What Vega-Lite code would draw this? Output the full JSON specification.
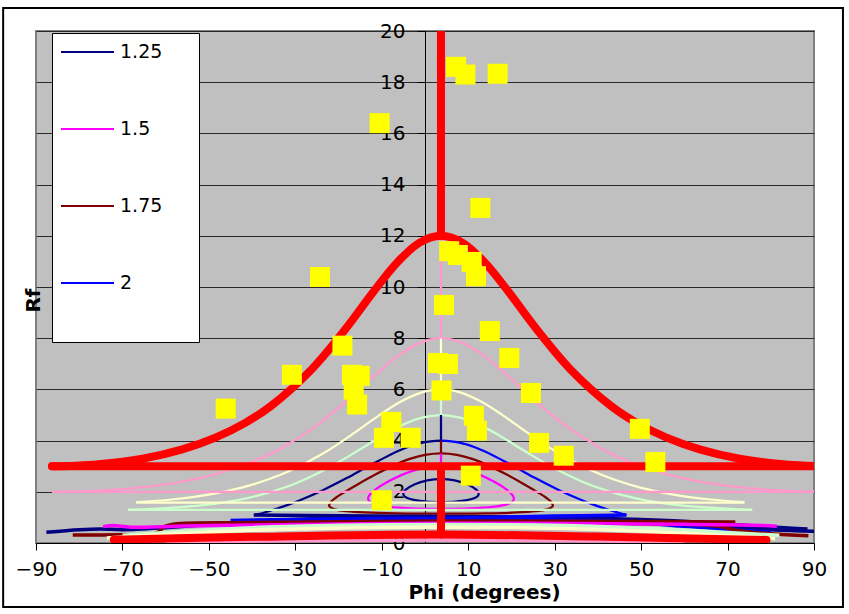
{
  "$schema": "https://vega.github.io/schema/vega-lite/v6.json",
  "width": 778,
  "height": 512,
  "autosize": {"type": "none"},
  "padding": {"left": 36, "top": 31, "right": 35, "bottom": 71},
  "background": "#FFFFFF",
  "config": {
    "font": "DejaVu Sans",
    "view": {"fill": "#C0C0C0", "stroke": "#808080", "strokeWidth": 2},
    "axis": {"labelFont": "DejaVu Sans", "titleFont": "DejaVu Sans", "labelColor": "#000000", "titleColor": "#000000", "domainColor": "#000000", "tickColor": "#000000"}
  },
  "resolve": {"axis": {"y": "independent"}},
  "datasets": {
    "onion": [
      {"s":"1.25","g":"L125","o":0,"phi":3.7,"rf":1.6},
      {"s":"1.25","g":"L125","o":1,"phi":0.36,"rf":1.619},
      {"s":"1.25","g":"L125","o":2,"phi":-2.35,"rf":1.672},
      {"s":"1.25","g":"L125","o":3,"phi":-4.1,"rf":1.754},
      {"s":"1.25","g":"L125","o":4,"phi":-4.92,"rf":1.854},
      {"s":"1.25","g":"L125","o":5,"phi":-4.97,"rf":1.967},
      {"s":"1.25","g":"L125","o":6,"phi":-4.46,"rf":2.082},
      {"s":"1.25","g":"L125","o":7,"phi":-2.35,"rf":2.296},
      {"s":"1.25","g":"L125","o":8,"phi":0.53,"rf":2.446},
      {"s":"1.25","g":"L125","o":9,"phi":3.7,"rf":2.5},
      {"s":"1.25","g":"L125","o":10,"phi":6.87,"rf":2.446},
      {"s":"1.25","g":"L125","o":11,"phi":9.75,"rf":2.296},
      {"s":"1.25","g":"L125","o":12,"phi":11.86,"rf":2.082},
      {"s":"1.25","g":"L125","o":13,"phi":12.37,"rf":1.967},
      {"s":"1.25","g":"L125","o":14,"phi":12.32,"rf":1.854},
      {"s":"1.25","g":"L125","o":15,"phi":11.5,"rf":1.754},
      {"s":"1.25","g":"L125","o":16,"phi":9.75,"rf":1.672},
      {"s":"1.25","g":"L125","o":17,"phi":7.04,"rf":1.619},
      {"s":"1.25","g":"L125","o":18,"phi":3.7,"rf":1.6},

      {"s":"1.5","g":"L150","o":0,"phi":3.7,"rf":1.333},
      {"s":"1.5","g":"L150","o":1,"phi":-3.09,"rf":1.354},
      {"s":"1.5","g":"L150","o":2,"phi":-8.2,"rf":1.414},
      {"s":"1.5","g":"L150","o":3,"phi":-11.28,"rf":1.501},
      {"s":"1.5","g":"L150","o":4,"phi":-12.77,"rf":1.607},
      {"s":"1.5","g":"L150","o":5,"phi":-13.17,"rf":1.728},
      {"s":"1.5","g":"L150","o":6,"phi":-12.89,"rf":1.857},
      {"s":"1.5","g":"L150","o":7,"phi":-11.1,"rf":2.13},
      {"s":"1.5","g":"L150","o":8,"phi":-8.52,"rf":2.4},
      {"s":"1.5","g":"L150","o":9,"phi":-5.6,"rf":2.642},
      {"s":"1.5","g":"L150","o":10,"phi":-2.53,"rf":2.834},
      {"s":"1.5","g":"L150","o":11,"phi":0.58,"rf":2.957},
      {"s":"1.5","g":"L150","o":12,"phi":3.7,"rf":3.0},
      {"s":"1.5","g":"L150","o":13,"phi":6.82,"rf":2.957},
      {"s":"1.5","g":"L150","o":14,"phi":9.93,"rf":2.834},
      {"s":"1.5","g":"L150","o":15,"phi":13.0,"rf":2.642},
      {"s":"1.5","g":"L150","o":16,"phi":15.92,"rf":2.4},
      {"s":"1.5","g":"L150","o":17,"phi":18.5,"rf":2.13},
      {"s":"1.5","g":"L150","o":18,"phi":20.29,"rf":1.857},
      {"s":"1.5","g":"L150","o":19,"phi":20.57,"rf":1.728},
      {"s":"1.5","g":"L150","o":20,"phi":20.17,"rf":1.607},
      {"s":"1.5","g":"L150","o":21,"phi":18.68,"rf":1.501},
      {"s":"1.5","g":"L150","o":22,"phi":15.6,"rf":1.414},
      {"s":"1.5","g":"L150","o":23,"phi":10.49,"rf":1.354},
      {"s":"1.5","g":"L150","o":24,"phi":3.7,"rf":1.333},

      {"s":"1.75","g":"L175","o":0,"phi":3.7,"rf":1.143},
      {"s":"1.75","g":"L175","o":1,"phi":-6.6,"rf":1.157},
      {"s":"1.75","g":"L175","o":2,"phi":-13.9,"rf":1.193},
      {"s":"1.75","g":"L175","o":3,"phi":-18.2,"rf":1.244},
      {"s":"1.75","g":"L175","o":4,"phi":-20.55,"rf":1.305},
      {"s":"1.75","g":"L175","o":5,"phi":-22.16,"rf":1.443},
      {"s":"1.75","g":"L175","o":6,"phi":-21.82,"rf":1.599},
      {"s":"1.75","g":"L175","o":7,"phi":-20.63,"rf":1.768},
      {"s":"1.75","g":"L175","o":8,"phi":-19.03,"rf":1.946},
      {"s":"1.75","g":"L175","o":9,"phi":-15.3,"rf":2.317},
      {"s":"1.75","g":"L175","o":10,"phi":-11.38,"rf":2.683},
      {"s":"1.75","g":"L175","o":11,"phi":-7.5,"rf":3.012},
      {"s":"1.75","g":"L175","o":12,"phi":-3.69,"rf":3.274},
      {"s":"1.75","g":"L175","o":13,"phi":0.02,"rf":3.442},
      {"s":"1.75","g":"L175","o":14,"phi":3.7,"rf":3.5},
      {"s":"1.75","g":"L175","o":15,"phi":7.38,"rf":3.442},
      {"s":"1.75","g":"L175","o":16,"phi":11.09,"rf":3.274},
      {"s":"1.75","g":"L175","o":17,"phi":14.9,"rf":3.012},
      {"s":"1.75","g":"L175","o":18,"phi":18.78,"rf":2.683},
      {"s":"1.75","g":"L175","o":19,"phi":22.7,"rf":2.317},
      {"s":"1.75","g":"L175","o":20,"phi":26.43,"rf":1.946},
      {"s":"1.75","g":"L175","o":21,"phi":28.03,"rf":1.768},
      {"s":"1.75","g":"L175","o":22,"phi":29.22,"rf":1.599},
      {"s":"1.75","g":"L175","o":23,"phi":29.56,"rf":1.443},
      {"s":"1.75","g":"L175","o":24,"phi":27.95,"rf":1.305},
      {"s":"1.75","g":"L175","o":25,"phi":25.6,"rf":1.244},
      {"s":"1.75","g":"L175","o":26,"phi":21.3,"rf":1.193},
      {"s":"1.75","g":"L175","o":27,"phi":14.0,"rf":1.157},
      {"s":"1.75","g":"L175","o":28,"phi":3.7,"rf":1.143},

      {"s":"1.25","g":"C200L","o":0,"phi":-39.6,"rf":1.09},
      {"s":"1.25","g":"C200L","o":1,"phi":-38.18,"rf":1.14},
      {"s":"1.25","g":"C200L","o":2,"phi":-35.09,"rf":1.297},
      {"s":"1.25","g":"C200L","o":3,"phi":-32.04,"rf":1.471},
      {"s":"1.25","g":"C200L","o":4,"phi":-29.07,"rf":1.661},
      {"s":"1.25","g":"C200L","o":5,"phi":-23.39,"rf":2.082},
      {"s":"1.25","g":"C200L","o":6,"phi":-18.12,"rf":2.535},
      {"s":"1.25","g":"C200L","o":7,"phi":-13.24,"rf":2.986},
      {"s":"1.25","g":"C200L","o":8,"phi":-8.7,"rf":3.393},
      {"s":"1.25","g":"C200L","o":9,"phi":-4.42,"rf":3.718},
      {"s":"1.25","g":"C200L","o":10,"phi":-0.31,"rf":3.928},
      {"s":"1.25","g":"C200L","o":11,"phi":3.7,"rf":4.0},

      {"s":"2","g":"C200R","o":0,"phi":3.7,"rf":4.0},
      {"s":"2","g":"C200R","o":1,"phi":7.71,"rf":3.928},
      {"s":"2","g":"C200R","o":2,"phi":11.82,"rf":3.718},
      {"s":"2","g":"C200R","o":3,"phi":16.1,"rf":3.393},
      {"s":"2","g":"C200R","o":4,"phi":20.64,"rf":2.986},
      {"s":"2","g":"C200R","o":5,"phi":25.52,"rf":2.535},
      {"s":"2","g":"C200R","o":6,"phi":30.79,"rf":2.082},
      {"s":"2","g":"C200R","o":7,"phi":36.47,"rf":1.661},
      {"s":"2","g":"C200R","o":8,"phi":39.44,"rf":1.471},
      {"s":"2","g":"C200R","o":9,"phi":42.49,"rf":1.297},
      {"s":"2","g":"C200R","o":10,"phi":45.58,"rf":1.14},
      {"s":"2","g":"C200R","o":11,"phi":46.6,"rf":1.09},

      {"s":"2.5","g":"C250","o":0,"phi":-68.7,"rf":1.29},
      {"s":"2.5","g":"C250","o":1,"phi":-65.48,"rf":1.311},
      {"s":"2.5","g":"C250","o":2,"phi":-52.36,"rf":1.46},
      {"s":"2.5","g":"C250","o":3,"phi":-43.97,"rf":1.658},
      {"s":"2.5","g":"C250","o":4,"phi":-37.84,"rf":1.889},
      {"s":"2.5","g":"C250","o":5,"phi":-32.86,"rf":2.147},
      {"s":"2.5","g":"C250","o":6,"phi":-28.6,"rf":2.425},
      {"s":"2.5","g":"C250","o":7,"phi":-21.44,"rf":3.02},
      {"s":"2.5","g":"C250","o":8,"phi":-15.39,"rf":3.622},
      {"s":"2.5","g":"C250","o":9,"phi":-10.07,"rf":4.173},
      {"s":"2.5","g":"C250","o":10,"phi":-5.24,"rf":4.615},
      {"s":"2.5","g":"C250","o":11,"phi":-0.7,"rf":4.901},
      {"s":"2.5","g":"C250","o":12,"phi":3.7,"rf":5.0},
      {"s":"2.5","g":"C250","o":13,"phi":8.1,"rf":4.901},
      {"s":"2.5","g":"C250","o":14,"phi":12.64,"rf":4.615},
      {"s":"2.5","g":"C250","o":15,"phi":17.47,"rf":4.173},
      {"s":"2.5","g":"C250","o":16,"phi":22.79,"rf":3.622},
      {"s":"2.5","g":"C250","o":17,"phi":28.84,"rf":3.02},
      {"s":"2.5","g":"C250","o":18,"phi":36.0,"rf":2.425},
      {"s":"2.5","g":"C250","o":19,"phi":40.26,"rf":2.147},
      {"s":"2.5","g":"C250","o":20,"phi":45.24,"rf":1.889},
      {"s":"2.5","g":"C250","o":21,"phi":51.37,"rf":1.658},
      {"s":"2.5","g":"C250","o":22,"phi":59.76,"rf":1.46},
      {"s":"2.5","g":"C250","o":23,"phi":72.88,"rf":1.311},
      {"s":"2.5","g":"C250","o":24,"phi":75.7,"rf":1.29},
      {"s":"2.5","g":"H250","o":0,"phi":-68.7,"rf":1.29},
      {"s":"2.5","g":"H250","o":1,"phi":75.7,"rf":1.29},

      {"s":"3","g":"C300","o":0,"phi":-66.8,"rf":1.6},
      {"s":"3","g":"C300","o":1,"phi":-58.66,"rf":1.699},
      {"s":"3","g":"C300","o":2,"phi":-49.4,"rf":1.912},
      {"s":"3","g":"C300","o":3,"phi":-42.2,"rf":2.175},
      {"s":"3","g":"C300","o":4,"phi":-36.34,"rf":2.478},
      {"s":"3","g":"C300","o":5,"phi":-31.38,"rf":2.811},
      {"s":"3","g":"C300","o":6,"phi":-23.2,"rf":3.537},
      {"s":"3","g":"C300","o":7,"phi":-16.53,"rf":4.28},
      {"s":"3","g":"C300","o":8,"phi":-10.8,"rf":4.965},
      {"s":"3","g":"C300","o":9,"phi":-5.67,"rf":5.517},
      {"s":"3","g":"C300","o":10,"phi":-0.9,"rf":5.876},
      {"s":"3","g":"C300","o":11,"phi":3.7,"rf":6.0},
      {"s":"3","g":"C300","o":12,"phi":8.3,"rf":5.876},
      {"s":"3","g":"C300","o":13,"phi":13.07,"rf":5.517},
      {"s":"3","g":"C300","o":14,"phi":18.2,"rf":4.965},
      {"s":"3","g":"C300","o":15,"phi":23.93,"rf":4.28},
      {"s":"3","g":"C300","o":16,"phi":30.6,"rf":3.537},
      {"s":"3","g":"C300","o":17,"phi":38.78,"rf":2.811},
      {"s":"3","g":"C300","o":18,"phi":43.74,"rf":2.478},
      {"s":"3","g":"C300","o":19,"phi":49.6,"rf":2.175},
      {"s":"3","g":"C300","o":20,"phi":56.8,"rf":1.912},
      {"s":"3","g":"C300","o":21,"phi":66.06,"rf":1.699},
      {"s":"3","g":"C300","o":22,"phi":73.9,"rf":1.6},
      {"s":"3","g":"H300","o":0,"phi":-66.8,"rf":1.58},
      {"s":"3","g":"H300","o":1,"phi":73.9,"rf":1.58},

      {"s":"4","g":"C400","o":0,"phi":-86.3,"rf":2.0},
      {"s":"4","g":"C400","o":1,"phi":-80.08,"rf":2.014},
      {"s":"4","g":"C400","o":2,"phi":-74.06,"rf":2.056},
      {"s":"4","g":"C400","o":3,"phi":-63.06,"rf":2.219},
      {"s":"4","g":"C400","o":4,"phi":-53.77,"rf":2.472},
      {"s":"4","g":"C400","o":5,"phi":-46.05,"rf":2.801},
      {"s":"4","g":"C400","o":6,"phi":-39.56,"rf":3.191},
      {"s":"4","g":"C400","o":7,"phi":-34.02,"rf":3.631},
      {"s":"4","g":"C400","o":8,"phi":-24.93,"rf":4.607},
      {"s":"4","g":"C400","o":9,"phi":-17.65,"rf":5.623},
      {"s":"4","g":"C400","o":10,"phi":-11.51,"rf":6.566},
      {"s":"4","g":"C400","o":11,"phi":-6.09,"rf":7.33},
      {"s":"4","g":"C400","o":12,"phi":-1.09,"rf":7.827},
      {"s":"4","g":"C400","o":13,"phi":3.7,"rf":8.0},
      {"s":"4","g":"C400","o":14,"phi":8.49,"rf":7.827},
      {"s":"4","g":"C400","o":15,"phi":13.49,"rf":7.33},
      {"s":"4","g":"C400","o":16,"phi":18.91,"rf":6.566},
      {"s":"4","g":"C400","o":17,"phi":25.05,"rf":5.623},
      {"s":"4","g":"C400","o":18,"phi":32.33,"rf":4.607},
      {"s":"4","g":"C400","o":19,"phi":41.42,"rf":3.631},
      {"s":"4","g":"C400","o":20,"phi":46.96,"rf":3.191},
      {"s":"4","g":"C400","o":21,"phi":53.45,"rf":2.801},
      {"s":"4","g":"C400","o":22,"phi":61.17,"rf":2.472},
      {"s":"4","g":"C400","o":23,"phi":70.46,"rf":2.219},
      {"s":"4","g":"C400","o":24,"phi":81.46,"rf":2.056},
      {"s":"4","g":"C400","o":25,"phi":87.48,"rf":2.014},
      {"s":"4","g":"C400","o":26,"phi":93.7,"rf":2.0},
      {"s":"4","g":"H400","o":0,"phi":-86.3,"rf":2.0},
      {"s":"4","g":"H400","o":1,"phi":93.7,"rf":2.0},

      {"s":"1.5","g":"V150","o":0,"phi":3.7,"rf":3.0},
      {"s":"1.5","g":"V150","o":1,"phi":3.7,"rf":3.5},
      {"s":"1.75","g":"V175","o":0,"phi":3.7,"rf":3.5},
      {"s":"1.75","g":"V175","o":1,"phi":3.7,"rf":4.0},
      {"s":"1.25","g":"V200","o":0,"phi":3.7,"rf":4.0},
      {"s":"1.25","g":"V200","o":1,"phi":3.7,"rf":5.0},
      {"s":"2.5","g":"V250","o":0,"phi":3.7,"rf":5.0},
      {"s":"2.5","g":"V250","o":1,"phi":3.7,"rf":6.0},
      {"s":"3","g":"V300","o":0,"phi":3.7,"rf":6.0},
      {"s":"3","g":"V300","o":1,"phi":3.7,"rf":8.0},
      {"s":"4","g":"V400","o":0,"phi":3.7,"rf":8.0},
      {"s":"4","g":"V400","o":1,"phi":3.7,"rf":12.0}
    ],
    "base": [
      {"s":"1.25","g":"B1","o":0,"phi":-39.6,"rf":1.09},
      {"s":"1.25","g":"B1","o":1,"phi":-20,"rf":1.06},
      {"s":"1.25","g":"B1","o":2,"phi":3.7,"rf":1.04},
      {"s":"1.25","g":"B1","o":3,"phi":30,"rf":1.0},
      {"s":"1.25","g":"B1","o":4,"phi":50,"rf":0.92},
      {"s":"1.25","g":"B1","o":5,"phi":65,"rf":0.8},
      {"s":"1.25","g":"B1","o":6,"phi":75,"rf":0.68},
      {"s":"1.25","g":"B1","o":7,"phi":85,"rf":0.58},
      {"s":"1.25","g":"B1","o":8,"phi":88.5,"rf":0.55},
      {"s":"1.25","g":"B2","o":0,"phi":-87.6,"rf":0.42},
      {"s":"1.25","g":"B2","o":1,"phi":-80,"rf":0.52},
      {"s":"1.25","g":"B2","o":2,"phi":-75,"rf":0.55},
      {"s":"1.25","g":"B2","o":3,"phi":-70,"rf":0.52},
      {"s":"1.25","g":"B2","o":4,"phi":-60,"rf":0.6},
      {"s":"1.25","g":"B2","o":5,"phi":-45,"rf":0.78},
      {"s":"1.25","g":"B2","o":6,"phi":-30,"rf":0.92},
      {"s":"1.25","g":"B2","o":7,"phi":-10,"rf":1.0},
      {"s":"1.25","g":"B2","o":8,"phi":3.7,"rf":1.0},
      {"s":"1.25","g":"B2","o":9,"phi":40,"rf":0.92},
      {"s":"1.25","g":"B2","o":10,"phi":60,"rf":0.72},
      {"s":"1.25","g":"B2","o":11,"phi":80,"rf":0.52},
      {"s":"1.25","g":"B2","o":12,"phi":91,"rf":0.45},
      {"s":"2","g":"B3","o":0,"phi":46.6,"rf":1.09},
      {"s":"2","g":"B3","o":1,"phi":30,"rf":1.05},
      {"s":"2","g":"B3","o":2,"phi":3.7,"rf":0.97},
      {"s":"2","g":"B3","o":3,"phi":-20,"rf":0.94},
      {"s":"2","g":"B3","o":4,"phi":-45,"rf":0.88},
      {"s":"2","g":"B4","o":0,"phi":3.7,"rf":0.93},
      {"s":"2","g":"B4","o":1,"phi":30,"rf":0.9},
      {"s":"2","g":"B4","o":2,"phi":45,"rf":0.85},
      {"s":"2","g":"B4","o":3,"phi":60,"rf":0.65},
      {"s":"2","g":"B4","o":4,"phi":72,"rf":0.5},
      {"s":"2","g":"B4","o":5,"phi":80,"rf":0.42},
      {"s":"1.75","g":"B5","o":0,"phi":-81.5,"rf":0.31},
      {"s":"1.75","g":"B5","o":1,"phi":-70,"rf":0.32},
      {"s":"1.75","g":"B5","o":2,"phi":-63,"rf":0.34},
      {"s":"1.75","g":"B5","o":3,"phi":-61.5,"rf":0.45},
      {"s":"1.75","g":"B5","o":4,"phi":-60.5,"rf":0.62},
      {"s":"1.75","g":"B5","o":5,"phi":-58,"rf":0.74},
      {"s":"1.75","g":"B5","o":6,"phi":-40,"rf":0.8},
      {"s":"1.75","g":"B5","o":7,"phi":3.7,"rf":0.86},
      {"s":"1.75","g":"B5","o":8,"phi":40,"rf":0.85},
      {"s":"1.75","g":"B5","o":9,"phi":71.8,"rf":0.82},
      {"s":"1.75","g":"B6","o":0,"phi":3.7,"rf":0.8},
      {"s":"1.75","g":"B6","o":1,"phi":40,"rf":0.77},
      {"s":"1.75","g":"B6","o":2,"phi":62,"rf":0.72},
      {"s":"1.75","g":"B6","o":3,"phi":68,"rf":0.65},
      {"s":"1.75","g":"B6","o":4,"phi":72,"rf":0.5},
      {"s":"1.75","g":"B6","o":5,"phi":80,"rf":0.36},
      {"s":"1.75","g":"B6","o":6,"phi":88.7,"rf":0.28},
      {"s":"1.5","g":"B7","o":0,"phi":-74.5,"rf":0.64},
      {"s":"1.5","g":"B7","o":1,"phi":-72,"rf":0.68},
      {"s":"1.5","g":"B7","o":2,"phi":-68,"rf":0.62},
      {"s":"1.5","g":"B7","o":3,"phi":-50,"rf":0.68},
      {"s":"1.5","g":"B7","o":4,"phi":3.7,"rf":0.77},
      {"s":"1.5","g":"B7","o":5,"phi":60,"rf":0.73},
      {"s":"1.5","g":"B7","o":6,"phi":78,"rf":0.68},
      {"s":"1.5","g":"B7","o":7,"phi":81.4,"rf":0.65},
      {"s":"2.5","g":"B8","o":0,"phi":-70,"rf":0.3},
      {"s":"2.5","g":"B8","o":1,"phi":-40,"rf":0.6},
      {"s":"2.5","g":"B8","o":2,"phi":3.7,"rf":0.72},
      {"s":"2.5","g":"B8","o":3,"phi":45,"rf":0.62},
      {"s":"2.5","g":"B8","o":4,"phi":82,"rf":0.3},
      {"s":"3","g":"B9","o":0,"phi":-73.6,"rf":0.2},
      {"s":"3","g":"B9","o":1,"phi":-40,"rf":0.5},
      {"s":"3","g":"B9","o":2,"phi":3.7,"rf":0.62},
      {"s":"3","g":"B9","o":3,"phi":45,"rf":0.5},
      {"s":"3","g":"B9","o":4,"phi":81,"rf":0.18},
      {"s":"4","g":"B10","o":0,"phi":-60,"rf":0.05},
      {"s":"4","g":"B10","o":1,"phi":3.7,"rf":0.12},
      {"s":"4","g":"B10","o":2,"phi":60,"rf":0.05}
    ],
    "outer": [
      {"s":"6","g":"R6","o":0,"phi":-86.3,"rf":3.0},
      {"s":"6","g":"R6","o":1,"phi":-80.85,"rf":3.019},
      {"s":"6","g":"R6","o":2,"phi":-75.5,"rf":3.074},
      {"s":"6","g":"R6","o":3,"phi":-65.37,"rf":3.293},
      {"s":"6","g":"R6","o":4,"phi":-56.35,"rf":3.645},
      {"s":"6","g":"R6","o":5,"phi":-48.49,"rf":4.114},
      {"s":"6","g":"R6","o":6,"phi":-41.7,"rf":4.683},
      {"s":"6","g":"R6","o":7,"phi":-35.8,"rf":5.333},
      {"s":"6","g":"R6","o":8,"phi":-26.14,"rf":6.8},
      {"s":"6","g":"R6","o":9,"phi":-18.44,"rf":8.348},
      {"s":"6","g":"R6","o":10,"phi":-12.01,"rf":9.794},
      {"s":"6","g":"R6","o":11,"phi":-6.38,"rf":10.968},
      {"s":"6","g":"R6","o":12,"phi":-1.23,"rf":11.734},
      {"s":"6","g":"R6","o":13,"phi":3.7,"rf":12.0},
      {"s":"6","g":"R6","o":14,"phi":8.63,"rf":11.734},
      {"s":"6","g":"R6","o":15,"phi":13.78,"rf":10.968},
      {"s":"6","g":"R6","o":16,"phi":19.41,"rf":9.794},
      {"s":"6","g":"R6","o":17,"phi":25.84,"rf":8.348},
      {"s":"6","g":"R6","o":18,"phi":33.54,"rf":6.8},
      {"s":"6","g":"R6","o":19,"phi":43.2,"rf":5.333},
      {"s":"6","g":"R6","o":20,"phi":49.1,"rf":4.683},
      {"s":"6","g":"R6","o":21,"phi":55.89,"rf":4.114},
      {"s":"6","g":"R6","o":22,"phi":63.75,"rf":3.645},
      {"s":"6","g":"R6","o":23,"phi":72.77,"rf":3.293},
      {"s":"6","g":"R6","o":24,"phi":82.9,"rf":3.074},
      {"s":"6","g":"R6","o":25,"phi":88.25,"rf":3.019},
      {"s":"6","g":"R6","o":26,"phi":93.7,"rf":3.0},
      {"s":"6","g":"R6H","o":0,"phi":-86.3,"rf":3.0},
      {"s":"6","g":"R6H","o":1,"phi":93.7,"rf":3.0},
      {"s":"6","g":"R6V1","o":0,"phi":3.7,"rf":12.0},
      {"s":"6","g":"R6V1","o":1,"phi":3.7,"rf":21.0},
      {"s":"6","g":"R6V2","o":0,"phi":3.7,"rf":0.33},
      {"s":"6","g":"R6V2","o":1,"phi":3.7,"rf":3.0},
      {"s":"6","g":"R6B","o":0,"phi":-72,"rf":0.13},
      {"s":"6","g":"R6B","o":1,"phi":-40,"rf":0.24},
      {"s":"6","g":"R6B","o":2,"phi":3.7,"rf":0.33},
      {"s":"6","g":"R6B","o":3,"phi":40,"rf":0.25},
      {"s":"6","g":"R6B","o":4,"phi":79,"rf":0.12}
    ],
    "pts": [
      {"phi":7.2,"rf":18.6},{"phi":9.35,"rf":18.3},{"phi":16.8,"rf":18.33},{"phi":12.8,"rf":13.09},
      {"phi":-10.5,"rf":16.4},{"phi":-24.3,"rf":10.39},{"phi":5.6,"rf":11.4},{"phi":7.6,"rf":11.25},
      {"phi":10.8,"rf":10.98},{"phi":11.8,"rf":10.42},{"phi":4.4,"rf":9.3},{"phi":15.0,"rf":8.28},
      {"phi":19.5,"rf":7.23},{"phi":3.0,"rf":7.03},{"phi":5.3,"rf":6.99},{"phi":3.8,"rf":5.96},
      {"phi":24.5,"rf":5.86},{"phi":11.3,"rf":4.97},{"phi":12.0,"rf":4.39},{"phi":26.4,"rf":3.91},
      {"phi":32.1,"rf":3.41},{"phi":49.7,"rf":4.46},{"phi":53.3,"rf":3.16},{"phi":10.6,"rf":2.63},
      {"phi":-10.0,"rf":1.67},{"phi":-9.5,"rf":4.11},{"phi":-7.8,"rf":4.73},{"phi":-3.3,"rf":4.11},
      {"phi":-46.1,"rf":5.25},{"phi":-30.8,"rf":6.57},{"phi":-19.1,"rf":7.71},{"phi":-16.9,"rf":6.57},
      {"phi":-15.1,"rf":6.53},{"phi":-16.5,"rf":5.99},{"phi":-15.7,"rf":5.41}
    ]
  },
  "layer": [
    {
      "data": {"name": "onion"},
      "mark": {"type": "line", "strokeWidth": 2.25, "interpolate": "catmull-rom", "clip": true},
      "encoding": {
        "x": {"field": "phi", "type": "quantitative", "scale": {"domain": [-90, 90], "nice": false, "zero": false},
              "axis": {"values": [-90,-70,-50,-30,-10,10,30,50,70,90], "grid": false, "tickSize": 7, "labelFontSize": 20, "labelPadding": 9, "labelFlush": false, "labelOverlap": false, "labelBound": false,
                       "title": "Phi (degrees)", "titleFontSize": 20, "titleFontWeight": "bold", "titleX": 448, "titleY": 39, "titleAlign": "center", "titleBaseline": "top"}},
        "y": {"field": "rf", "type": "quantitative", "scale": {"domain": [0, 20], "nice": false, "zero": false},
              "axis": {"orient": "left", "values": [0,2,4,6,8,10,12,14,16,18,20], "offset": -389, "grid": false, "tickSize": 8, "labelFontSize": 20, "labelPadding": 12,
                       "title": "Rf", "titleFontSize": 20, "titleFontWeight": "bold", "titleAngle": -90, "titleX": -382, "titleY": 269, "titleAlign": "center", "titleBaseline": "bottom"}},
        "color": {"field": "s", "type": "nominal",
                  "scale": {"domain": ["1.25","1.5","1.75","2","2.5","3","4","6"], "range": ["#000080","#FF00FF","#800000","#0000FF","#CCFFCC","#FFFFCC","#FF99CC","#FF0000"]},
                  "legend": {"values": ["1.25","1.5","1.75","2"], "title": "_________", "titleColor": "#FFFFFF", "titleOrient": "bottom", "titleFontSize": 29, "titlePadding": 12,
                             "orient": "none", "legendX": 16, "legendY": 2, "direction": "vertical",
                             "symbolType": "M-1,0H4.3", "symbolSize": 400, "symbolStrokeWidth": 2, "labelFontSize": 19, "labelOffset": 38, "rowPadding": 56, "padding": 8,
                             "fillColor": "#FFFFFF", "strokeColor": "#000000", "labelColor": "#000000", "labelFont": "DejaVu Sans"}},
        "detail": {"field": "g"},
        "order": {"field": "o", "type": "quantitative"}
      }
    },
    {
      "data": {"name": "base"},
      "mark": {"type": "line", "strokeWidth": 3.5, "interpolate": "catmull-rom", "clip": true},
      "encoding": {
        "x": {"field": "phi", "type": "quantitative",
              "axis": {"values": [-90,-70,-50,-30,-10,10,30,50,70,90], "grid": false, "tickSize": 7, "labelFontSize": 20, "labelPadding": 9, "labelFlush": false, "labelOverlap": false, "labelBound": false,
                       "title": "Phi (degrees)", "titleFontSize": 20, "titleFontWeight": "bold", "titleX": 448, "titleY": 39, "titleAlign": "center", "titleBaseline": "top"}},
        "y": {"field": "rf", "type": "quantitative", "axis": null},
        "color": {"field": "s", "type": "nominal"},
        "detail": {"field": "g"},
        "order": {"field": "o", "type": "quantitative"}
      }
    },
    {
      "data": {"name": "outer"},
      "mark": {"type": "line", "strokeWidth": 8, "strokeCap": "round", "interpolate": "catmull-rom", "clip": true},
      "encoding": {
        "x": {"field": "phi", "type": "quantitative",
              "axis": {"values": [-90,-70,-50,-30,-10,10,30,50,70,90], "grid": false, "tickSize": 7, "labelFontSize": 20, "labelPadding": 9, "labelFlush": false, "labelOverlap": false, "labelBound": false,
                       "title": "Phi (degrees)", "titleFontSize": 20, "titleFontWeight": "bold", "titleX": 448, "titleY": 39, "titleAlign": "center", "titleBaseline": "top"}},
        "y": {"field": "rf", "type": "quantitative", "axis": null},
        "color": {"field": "s", "type": "nominal"},
        "detail": {"field": "g"},
        "order": {"field": "o", "type": "quantitative"}
      }
    },
    {
      "data": {"name": "pts"},
      "mark": {"type": "point", "shape": "square", "filled": true, "size": 400, "color": "#FFFF00", "opacity": 1, "strokeWidth": 0},
      "encoding": {
        "x": {"field": "phi", "type": "quantitative",
              "axis": {"values": [-90,-70,-50,-30,-10,10,30,50,70,90], "grid": false, "tickSize": 7, "labelFontSize": 20, "labelPadding": 9, "labelFlush": false, "labelOverlap": false, "labelBound": false,
                       "title": "Phi (degrees)", "titleFontSize": 20, "titleFontWeight": "bold", "titleX": 448, "titleY": 39, "titleAlign": "center", "titleBaseline": "top"}},
        "y": {"field": "rf", "type": "quantitative",
              "axis": {"orient": "right", "values": [0,2,4,6,8,10,12,14,16,18,20], "grid": true, "gridColor": "#2A2A2A", "gridWidth": 1, "domain": false, "ticks": false, "labels": false, "title": null}}
      }
    },
    {
      "data": {"values": [{}]},
      "mark": {"type": "rect", "filled": false, "stroke": "#000000", "strokeWidth": 2, "clip": false},
      "encoding": {
        "x": {"datum": -97.6, "type": "quantitative",
              "axis": {"values": [-90,-70,-50,-30,-10,10,30,50,70,90], "grid": false, "tickSize": 7, "labelFontSize": 20, "labelPadding": 9, "labelFlush": false, "labelOverlap": false, "labelBound": false,
                       "title": "Phi (degrees)", "titleFontSize": 20, "titleFontWeight": "bold", "titleX": 448, "titleY": 39, "titleAlign": "center", "titleBaseline": "top"}},
        "x2": {"datum": 96.7},
        "y": {"datum": 20.9, "type": "quantitative", "axis": null},
        "y2": {"datum": -2.5}
      }
    }
  ]
}
